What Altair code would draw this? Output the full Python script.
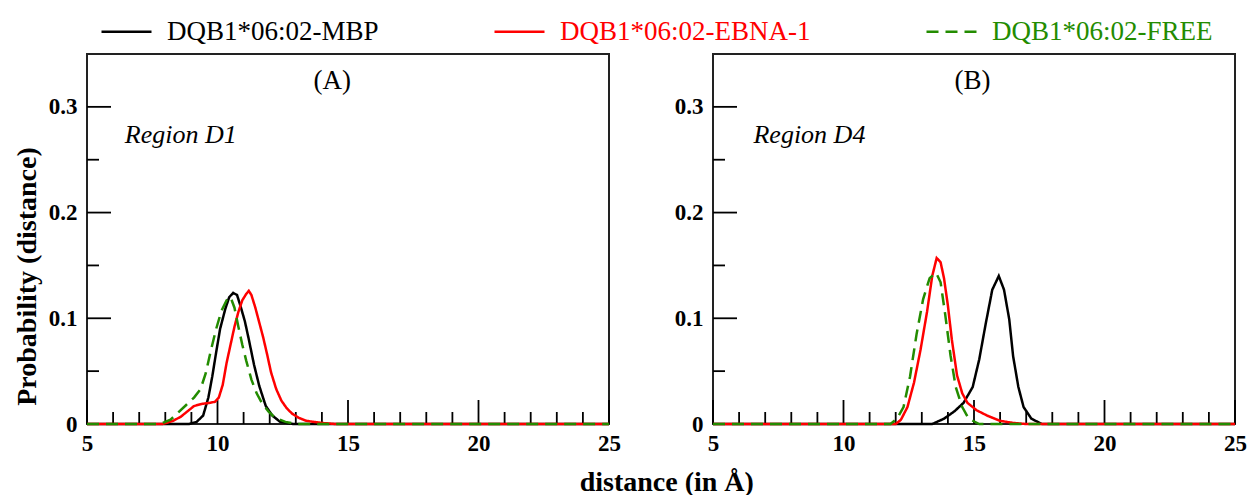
import altair as alt
import pandas as pd

SERIES = ["DQB1*06:02-MBP", "DQB1*06:02-EBNA-1", "DQB1*06:02-FREE"]
COLORS = ["#000000", "#ff0000", "#238c00"]
DASHES = [[1, 0], [1, 0], [12, 7]]

# ---- Panel A (Region D1) ----
A_MBP_X = [5, 8.9, 9.2, 9.45, 9.65, 9.8, 9.95, 10.1, 10.3, 10.45, 10.6, 10.75, 10.9, 11.05, 11.2, 11.4, 11.6, 11.85, 12.1, 12.4, 12.9, 25]
A_MBP_Y = [0, 0, 0.002, 0.008, 0.025, 0.045, 0.068, 0.09, 0.109, 0.12, 0.124, 0.122, 0.11, 0.097, 0.08, 0.056, 0.036, 0.017, 0.008, 0.002, 0, 0]

A_EBNA_X = [5, 7.9, 8.3, 8.6, 8.9, 9.1, 9.4, 9.7, 9.9, 10.05, 10.2, 10.35, 10.5, 10.65, 10.8, 10.95, 11.1, 11.2, 11.3, 11.45, 11.6, 11.75, 11.9, 12.05, 12.25, 12.45, 12.65, 12.85, 13.1, 13.4, 14.0, 14.5, 25]
A_EBNA_Y = [0, 0, 0.003, 0.007, 0.013, 0.017, 0.019, 0.02, 0.021, 0.025, 0.037, 0.058, 0.075, 0.092, 0.106, 0.117, 0.123, 0.126, 0.122, 0.11, 0.096, 0.082, 0.066, 0.049, 0.033, 0.022, 0.015, 0.01, 0.006, 0.003, 0.001, 0, 0]

A_FREE_X = [5, 7.8, 8.2, 8.5, 8.8, 9.1, 9.35, 9.55, 9.75, 9.95, 10.15, 10.35, 10.5, 10.65, 10.8, 10.95, 11.1, 11.3, 11.5, 11.7, 11.95, 12.2, 12.6, 13.0, 25]
A_FREE_Y = [0, 0, 0.004, 0.011, 0.018, 0.025, 0.033, 0.048, 0.07, 0.09, 0.107, 0.117, 0.12, 0.11, 0.092, 0.075, 0.06, 0.042, 0.029, 0.02, 0.012, 0.006, 0.002, 0, 0]

# ---- Panel B (Region D4) ----
B_MBP_X = [5, 13.4, 13.85, 14.25, 14.6, 14.95, 15.2, 15.45, 15.7, 15.95, 16.15, 16.35, 16.5, 16.7, 16.9, 17.2, 17.6, 25]
B_MBP_Y = [0, 0, 0.005, 0.012, 0.02, 0.035, 0.061, 0.095, 0.127, 0.14, 0.127, 0.099, 0.064, 0.035, 0.016, 0.005, 0, 0]

B_EBNA_X = [5, 12.0, 12.2, 12.45, 12.7, 12.95, 13.2, 13.4, 13.57, 13.72, 13.85, 14.0, 14.15, 14.35, 14.55, 14.75, 15.1, 15.5, 16.0, 16.5, 17.0, 25]
B_EBNA_Y = [0, 0, 0.004, 0.016, 0.039, 0.07, 0.106, 0.14, 0.157, 0.153, 0.138, 0.112, 0.08, 0.046, 0.029, 0.02, 0.013, 0.008, 0.003, 0.001, 0, 0]

B_FREE_X = [5, 11.8, 12.05, 12.3, 12.55, 12.8, 13.05, 13.3, 13.55, 13.72, 13.9, 14.1, 14.3, 14.55, 14.8, 15.2, 25]
B_FREE_Y = [0, 0, 0.005, 0.016, 0.045, 0.085, 0.118, 0.138, 0.143, 0.134, 0.103, 0.065, 0.035, 0.016, 0.005, 0, 0]

X_MAJOR = [5, 10, 15, 20, 25]
X_MINOR = [6, 7, 8, 9, 11, 12, 13, 14, 16, 17, 18, 19, 21, 22, 23, 24]
Y_MAJOR = [0, 0.1, 0.2, 0.3]
Y_MINOR = [0.05, 0.15, 0.25]

PANEL_LABELS = ["(A)", "(B)"]
PANEL_LABEL_X = [14.4, 14.94]
PANEL_LABEL_Y = [0.3245, 0.3245]
REGION_LABELS = ["Region D1", "Region D4"]
REGION_LABEL_X = [6.45, 6.55]
REGION_LABEL_Y = [0.273, 0.273]

W, H = 522, 370
SERIF = "Liberation Serif"

xscale = alt.Scale(domain=[5, 25], nice=False, zero=False)
yscale = alt.Scale(domain=[0, 0.35], nice=False, zero=True)

label_fill = " : ".join(
    [f"datum.value === '{s}' ? '{c}'" for s, c in zip(SERIES, COLORS)] + ["'black'"]
)
legend = alt.Legend(
    title=None, orient="none", legendX=13, legendY=-49, direction="horizontal",
    columns=3, columnPadding=110, symbolType="stroke", symbolSize=2500,
    symbolStrokeWidth=2.5, labelFont=SERIF, labelFontSize=27, labelOffset=14,
    labelLimit=500, padding=0, labelColor=alt.ExprRef(expr=label_fill),
)


def panel(xsets, idx, show_title):
    frames = []
    for (xs, ys), name in zip(xsets, SERIES):
        frames.append(pd.DataFrame({"d": xs, "p": ys, "s": name}))
    df = pd.concat(frames, ignore_index=True)

    yaxis = alt.Axis(
        values=Y_MAJOR, format=".1~f", ticks=False, grid=False, domain=False, labelFont=SERIF,
        labelFontSize=23, labelFontWeight="bold", labelColor="black", labelPadding=10,
        title="Probability (distance)" if show_title else None,
        titleFont=SERIF, titleFontSize=28, titleFontWeight="bold", titleColor="black",
        titleX=-60, titleY=222, titleBaseline="middle", titleAngle=270, titleAlign="center",
    )
    xaxis = alt.Axis(
        values=X_MAJOR, ticks=False, grid=False, domain=False, labelFont=SERIF,
        labelFontSize=23, labelFontWeight="bold", labelColor="black", labelPadding=8,
        labelFlush=False, labelOverlap=False, title=None,
    )

    layers = []
    for i, name in enumerate(SERIES):
        layers.append(
            alt.Chart(df).transform_filter(alt.datum.s == name).mark_line(strokeWidth=2.5).encode(
                x=alt.X("d:Q", scale=xscale, axis=xaxis),
                y=alt.Y("p:Q", scale=yscale, axis=yaxis),
                color=alt.Color("s:N", scale=alt.Scale(domain=SERIES, range=COLORS), legend=legend),
                strokeDash=alt.StrokeDash("s:N", scale=alt.Scale(domain=SERIES, range=DASHES), legend=legend),
            )
        )

    xt_major = alt.Chart(pd.DataFrame({"t": X_MAJOR})).mark_rule(color="black", strokeWidth=1.8).encode(
        x=alt.X("t:Q", scale=xscale), y=alt.value(H), y2=alt.value(H - 24))
    xt_minor = alt.Chart(pd.DataFrame({"t": X_MINOR})).mark_rule(color="black", strokeWidth=1.8).encode(
        x=alt.X("t:Q", scale=xscale), y=alt.value(H), y2=alt.value(H - 12))
    yt_major = alt.Chart(pd.DataFrame({"t": Y_MAJOR})).mark_rule(color="black", strokeWidth=1.8).encode(
        y=alt.Y("t:Q", scale=yscale), x=alt.value(0), x2=alt.value(24))
    yt_minor = alt.Chart(pd.DataFrame({"t": Y_MINOR})).mark_rule(color="black", strokeWidth=1.8).encode(
        y=alt.Y("t:Q", scale=yscale), x=alt.value(0), x2=alt.value(12))

    ann = pd.DataFrame({
        "x": [PANEL_LABEL_X[idx]], "y": [PANEL_LABEL_Y[idx]], "t": [PANEL_LABELS[idx]],
    })
    reg = pd.DataFrame({
        "x": [REGION_LABEL_X[idx]], "y": [REGION_LABEL_Y[idx]], "t": [REGION_LABELS[idx]],
    })
    t_panel = alt.Chart(ann).mark_text(font=SERIF, fontSize=27, color="black", baseline="middle", align="center").encode(
        x=alt.X("x:Q", scale=xscale), y=alt.Y("y:Q", scale=yscale), text="t:N")
    t_region = alt.Chart(reg).mark_text(font=SERIF, fontSize=26, fontStyle="italic", color="black", baseline="middle", align="left").encode(
        x=alt.X("x:Q", scale=xscale), y=alt.Y("y:Q", scale=yscale), text="t:N")

    return alt.layer(xt_major, xt_minor, yt_major, yt_minor, *layers, t_panel, t_region).properties(
        width=W, height=H, view=alt.ViewBackground(stroke="#222222", strokeWidth=2))


pA = panel([(A_MBP_X, A_MBP_Y), (A_EBNA_X, A_EBNA_Y), (A_FREE_X, A_FREE_Y)], 0, True)
pB = panel([(B_MBP_X, B_MBP_Y), (B_EBNA_X, B_EBNA_Y), (B_FREE_X, B_FREE_Y)], 1, False)

chart = alt.hconcat(
    pA, pB, spacing=104, bounds="flush",
    title=alt.TitleParams("distance (in Å)", orient="bottom", anchor="middle", font=SERIF,
                          fontSize=28, fontWeight="bold", color="black", dx=37, offset=13),
).resolve_scale(color="shared", strokeDash="shared").properties(
    padding={"left": 12, "top": 5, "right": 5, "bottom": 5}
).configure(background="white").configure_view(stroke="#222222", strokeWidth=2)

chart.save("out.html", embed_options={"renderer": "svg", "actions": False})
